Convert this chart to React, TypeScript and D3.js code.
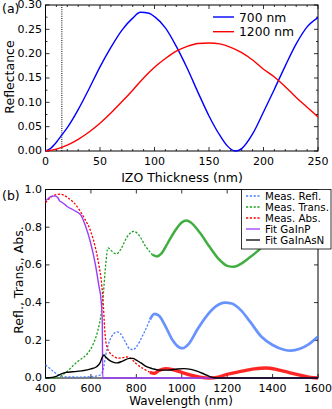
import React from 'react';
import * as d3 from 'd3';

// (a) reflectance vs IZO thickness
const refl700: [number, number][] = [
  [0, 0], [5, 0.006], [10, 0.018], [15, 0.033], [20, 0.048], [30, 0.085], [40, 0.128],
  [50, 0.173], [60, 0.213], [70, 0.248], [80, 0.273], [87, 0.285], [95, 0.283],
  [100, 0.276], [110, 0.253], [120, 0.215], [130, 0.17], [140, 0.12], [150, 0.072],
  [160, 0.032], [167, 0.01], [174, 0], [180, 0.005], [190, 0.035], [200, 0.08],
  [210, 0.127], [220, 0.175], [230, 0.22], [240, 0.255], [250, 0.274],
];
const refl1200: [number, number][] = [
  [0, 0], [10, 0.004], [20, 0.012], [30, 0.024], [40, 0.039], [50, 0.057], [60, 0.078],
  [70, 0.101], [80, 0.125], [90, 0.15], [100, 0.172], [110, 0.19], [120, 0.205],
  [130, 0.215], [140, 0.221], [150, 0.222], [160, 0.22], [170, 0.213], [180, 0.202],
  [190, 0.187], [200, 0.168], [210, 0.152], [220, 0.132], [230, 0.11], [240, 0.09], [250, 0.07],
];
const markThickness = 15;
const xTicksA = [0, 50, 100, 150, 200, 250];
const yTicksA = [0, 0.05, 0.1, 0.15, 0.2, 0.25, 0.3];

// (b) measured spectra and fits
const measRefl: [number, number][] = [
  [400, 0.07], [420, 0.05], [440, 0.03], [460, 0.015], [500, 0.006], [550, 0.005],
  [600, 0.007], [640, 0.015], [655, 0.05], [665, 0.12], [680, 0.19], [700, 0.235],
  [715, 0.245], [730, 0.235], [750, 0.195], [770, 0.155], [785, 0.15], [800, 0.165],
  [830, 0.23], [860, 0.31], [880, 0.34], [900, 0.33], [930, 0.27], [960, 0.2],
  [990, 0.162], [1005, 0.158], [1030, 0.18], [1070, 0.26], [1110, 0.33], [1150, 0.38],
  [1190, 0.4], [1220, 0.395], [1260, 0.36], [1300, 0.3], [1350, 0.22], [1400, 0.175],
  [1450, 0.15], [1480, 0.145], [1520, 0.155], [1560, 0.18], [1600, 0.22],
];
const measTrans: [number, number][] = [
  [400, 0], [455, 0], [470, 0.012], [500, 0.04], [525, 0.07], [550, 0.095], [585, 0.13],
  [610, 0.18], [630, 0.25], [645, 0.34], [655, 0.45], [665, 0.6], [675, 0.69],
  [690, 0.675], [712, 0.658], [730, 0.68], [760, 0.75], [788, 0.778], [810, 0.76],
  [840, 0.7], [870, 0.655], [890, 0.645], [910, 0.66], [940, 0.72], [970, 0.78],
  [1000, 0.825], [1020, 0.835], [1040, 0.825], [1080, 0.77], [1120, 0.7], [1160, 0.635],
  [1200, 0.595], [1230, 0.59], [1260, 0.605], [1300, 0.64], [1340, 0.68], [1380, 0.73],
  [1420, 0.78], [1460, 0.81], [1500, 0.82], [1550, 0.8], [1600, 0.77],
];
const measAbs: [number, number][] = [
  [400, 0.93], [420, 0.955], [440, 0.97], [460, 0.975], [480, 0.97], [500, 0.955],
  [525, 0.93], [550, 0.89], [570, 0.85], [600, 0.775], [620, 0.69], [635, 0.6],
  [648, 0.49], [655, 0.38], [660, 0.27], [665, 0.2], [672, 0.16], [680, 0.14],
  [700, 0.115], [720, 0.105], [740, 0.108], [760, 0.112], [780, 0.1], [800, 0.075],
  [830, 0.05], [860, 0.03], [880, 0.025], [900, 0.04], [930, 0.05], [960, 0.045],
  [1000, 0.03], [1040, 0.015], [1080, 0.005], [1120, 0], [1160, 0.005], [1200, 0.02],
  [1260, 0.035], [1320, 0.048], [1370, 0.053], [1420, 0.045], [1470, 0.03],
  [1520, 0.015], [1560, 0.005], [1600, 0],
];
const fitGaInP: [number, number][] = [
  [400, 0.94], [415, 0.955], [430, 0.965], [445, 0.965], [455, 0.955], [462, 0.94],
  [475, 0.93], [495, 0.91], [525, 0.89], [555, 0.865], [575, 0.81], [598, 0.72],
  [620, 0.6], [635, 0.49], [645, 0.41], [650, 0.3], [652, 0], [1600, 0],
];
const fitGaInAsN: [number, number][] = [
  [400, 0], [430, 0.003], [450, 0.01], [470, 0.022], [490, 0.03], [520, 0.033],
  [560, 0.038], [600, 0.048], [625, 0.06], [640, 0.08], [650, 0.11], [657, 0.122],
  [665, 0.112], [680, 0.095], [700, 0.083], [715, 0.08], [740, 0.09], [770, 0.104],
  [785, 0.104], [800, 0.095], [820, 0.08], [845, 0.06], [870, 0.05], [900, 0.042],
  [940, 0.042], [980, 0.048], [1010, 0.05], [1040, 0.046], [1070, 0.035], [1100, 0.02],
  [1130, 0.005], [1150, 0], [1600, 0],
];
const xTicksB = [400, 600, 800, 1000, 1200, 1400, 1600];
const yTicksB = [0, 0.2, 0.4, 0.6, 0.8, 1.0];

const FONT = 'DejaVu Sans, sans-serif';
const noiseFrom = 850;

const Frame = ({ x, y, xTicks, yTicks, minorX, minorY, xFmt, yFmt }: any) => {
  const [x0, x1] = x.range();
  const [y0, y1] = y.range();
  return (
    <g>
      <rect x={x0} y={y1} width={x1 - x0} height={y0 - y1} fill="none" stroke="#000" strokeWidth={1} />
      {minorX.map((t: number) => (
        <g key={'mx' + t} stroke="#000" strokeWidth={0.8}>
          <line x1={x(t)} x2={x(t)} y1={y0} y2={y0 - 2} />
          <line x1={x(t)} x2={x(t)} y1={y1} y2={y1 + 2} />
        </g>
      ))}
      {minorY.map((t: number) => (
        <g key={'my' + t} stroke="#000" strokeWidth={0.8}>
          <line x1={x0} x2={x0 + 2} y1={y(t)} y2={y(t)} />
          <line x1={x1} x2={x1 - 2} y1={y(t)} y2={y(t)} />
        </g>
      ))}
      {xTicks.map((t: number) => (
        <g key={'x' + t}>
          <line x1={x(t)} x2={x(t)} y1={y0} y2={y0 - 4} stroke="#000" strokeWidth={0.8} />
          <line x1={x(t)} x2={x(t)} y1={y1} y2={y1 + 4} stroke="#000" strokeWidth={0.8} />
          <text x={x(t)} y={y0 + 13.5} textAnchor="middle" fontSize={11} fontFamily={FONT}>{xFmt(t)}</text>
        </g>
      ))}
      {yTicks.map((t: number) => (
        <g key={'y' + t}>
          <line x1={x0} x2={x0 + 4} y1={y(t)} y2={y(t)} stroke="#000" strokeWidth={0.8} />
          <line x1={x1} x2={x1 - 4} y1={y(t)} y2={y(t)} stroke="#000" strokeWidth={0.8} />
          <text x={x0 - 3.5} y={y(t)} dy="0.3em" textAnchor="end" fontSize={11} fontFamily={FONT}>{yFmt(t)}</text>
        </g>
      ))}
    </g>
  );
};

// split a measured series into the clean (dashed) part and the noisy tail
const splitAt = (pts: [number, number][], w: number) => {
  const i = pts.findIndex((p) => p[0] >= w);
  return [pts.slice(0, i + 1), pts.slice(i)];
};

export default function App() {
  const xa = d3.scaleLinear().domain([0, 250]).range([45.5, 318]);
  const ya = d3.scaleLinear().domain([0, 0.3]).range([151, 5]);
  const xb = d3.scaleLinear().domain([400, 1600]).range([45.5, 318]);
  const yb = d3.scaleLinear().domain([0, 1]).range([378, 189.5]);

  const lineA = d3.line<[number, number]>().x((d) => xa(d[0])).y((d) => ya(d[1])).curve(d3.curveMonotoneX);
  const lineB = d3.line<[number, number]>().x((d) => xb(d[0])).y((d) => yb(d[1])).curve(d3.curveMonotoneX);

  const measured = [
    { data: measRefl, color: '#4d80ff', label: 'Meas. Refl.', noiseW: 2.7 },
    { data: measTrans, color: '#1fa01f', label: 'Meas. Trans.', noiseW: 2.5 },
    { data: measAbs, color: '#ff0000', label: 'Meas. Abs.', noiseW: 3.3 },
  ];
  const fits = [
    { data: fitGaInP, color: '#9b3cf7', label: 'Fit GaInP' },
    { data: fitGaInAsN, color: '#000000', label: 'Fit GaInAsN' },
  ];

  const minorXA = d3.range(0, 251, 10).filter((v) => v % 50 !== 0);
  const minorYA = d3.range(0.025, 0.3, 0.05);

  const legB = [...measured.map((m) => ({ ...m, dashed: true })), ...fits.map((f) => ({ ...f, dashed: false }))];

  return (
    <svg width={332} height={409} style={{ position: 'absolute', left: 0, top: 0, background: '#fff' }}>
      {/* panel (a) */}
      <text x={2} y={13} fontSize={12.5} fontFamily={FONT}>(a)</text>
      <Frame x={xa} y={ya} xTicks={xTicksA} yTicks={yTicksA} minorX={minorXA} minorY={minorYA}
        xFmt={(t: number) => String(t)} yFmt={(t: number) => t.toFixed(2)} />
      <line x1={xa(markThickness)} x2={xa(markThickness)} y1={ya(0)} y2={ya(0.3)}
        stroke="#000" strokeWidth={1} strokeDasharray="1,1.2" />
      <path d={lineA(refl700) || ''} fill="none" stroke="#0000ff" strokeWidth={1.4} />
      <path d={lineA(refl1200) || ''} fill="none" stroke="#ff0000" strokeWidth={1.4} />
      <line x1={213} x2={234} y1={17} y2={17} stroke="#0000ff" strokeWidth={1.4} />
      <text x={239} y={21.7} fontSize={12.3} fontFamily={FONT}>700 nm</text>
      <line x1={213} x2={234} y1={31.7} y2={31.7} stroke="#ff0000" strokeWidth={1.4} />
      <text x={239} y={36} fontSize={12.3} fontFamily={FONT}>1200 nm</text>
      <text x={182} y={182} textAnchor="middle" fontSize={12.5} fontFamily={FONT}>IZO Thickness (nm)</text>
      <text transform="translate(13.5,77) rotate(-90)" textAnchor="middle" fontSize={12.5} fontFamily={FONT}>Reflectance</text>

      {/* panel (b) */}
      <text x={2} y={200} fontSize={12.5} fontFamily={FONT}>(b)</text>
      <Frame x={xb} y={yb} xTicks={xTicksB} yTicks={yTicksB} minorX={[]} minorY={[]}
        xFmt={(t: number) => String(t)} yFmt={(t: number) => t.toFixed(1)} />
      {measured.map((m) => {
        const [clean, noisy] = splitAt(m.data, noiseFrom);
        return (
          <g key={m.label}>
            <path d={lineB(clean) || ''} fill="none" stroke={m.color} strokeWidth={1.3} strokeDasharray="2.2,1.6" />
            <path d={lineB(noisy) || ''} fill="none" stroke={m.color} strokeWidth={m.noiseW} strokeOpacity={0.85} />
          </g>
        );
      })}
      {fits.map((f) => (
        <path key={f.label} d={lineB(f.data) || ''} fill="none" stroke={f.color} strokeWidth={1.4} />
      ))}
      <rect x={241.5} y={189.5} width={89.5} height={59.5} fill="#fff" stroke="#000" strokeWidth={0.8} />
      {legB.map((l, i) => (
        <g key={'lg' + l.label}>
          <line x1={246} x2={260} y1={196 + i * 11} y2={196 + i * 11} stroke={l.color}
            strokeWidth={1.3} strokeDasharray={l.dashed ? '2.2,1.6' : undefined} />
          <text x={265} y={196 + i * 11} dy="0.36em" fontSize={10.3} fontFamily={FONT}>{l.label}</text>
        </g>
      ))}
      <text x={181} y={405} textAnchor="middle" fontSize={12} fontFamily={FONT}>Wavelength (nm)</text>
      <text transform="translate(22.5,280) rotate(-90)" textAnchor="middle" fontSize={12.5} fontFamily={FONT}>Refl., Trans., Abs.</text>
    </svg>
  );
}
